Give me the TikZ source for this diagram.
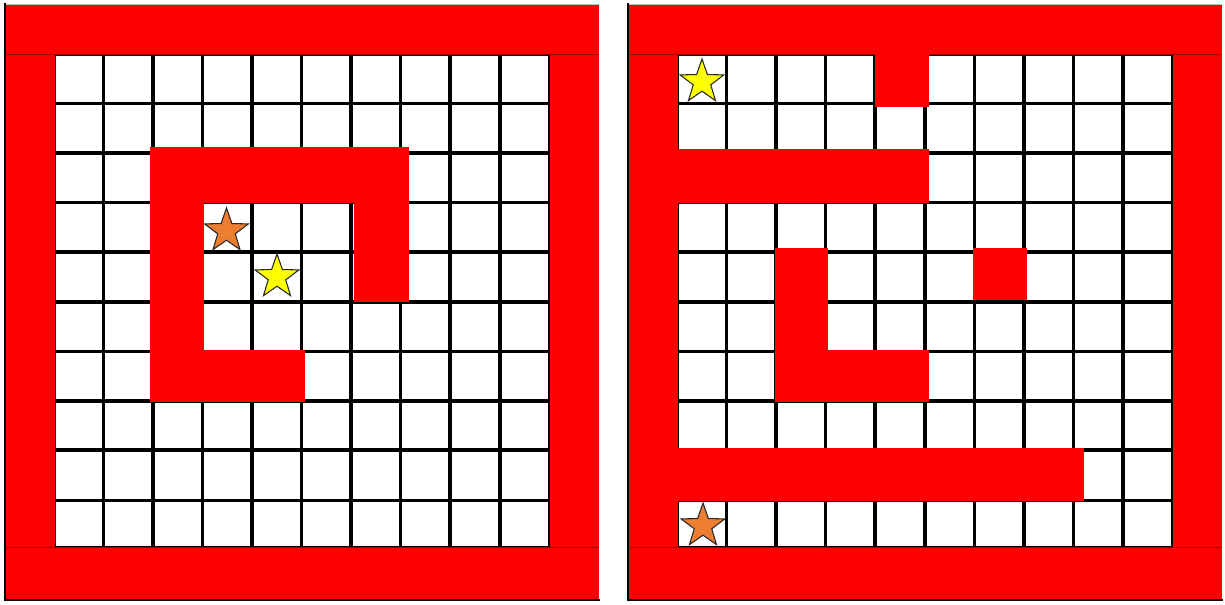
\documentclass[tikz,border=0pt]{standalone}
\usetikzlibrary{shapes.geometric}
\definecolor{wallred}{HTML}{FF0000}
\definecolor{starorange}{HTML}{ED7D31}
\definecolor{staryellow}{HTML}{FFFF00}
\begin{document}
\begin{tikzpicture}[x=0.02cm,y=-0.02cm,
  gridline/.style={line width=2pt,black},
  wall/.style={fill=wallred,draw=none},
  seam/.style={line width=0.5pt,draw=wallred!60!black},
  frame/.style={line width=1.1pt,black},
  goalstar/.style={star,star points=5,star point ratio=2.5,minimum size=0.92cm,inner sep=0pt,draw=black!85,line width=0.6pt}]
\useasboundingbox (0,0) rectangle (1225,605);
\fill[white] (0,0) rectangle (1225,605);
% grids
\foreach \ox in {53.8,677}{
  \foreach \i in {0,...,10} \draw[gridline] ({\ox+\i*49.55},54) -- ({\ox+\i*49.55},548.5);
  \foreach \yy in {54,103.5,153,202.5,252,302,351.5,401,450,500.5,548}
    \draw[gridline] (\ox,\yy) -- ({\ox+495.5},\yy);
}
% outer walls
\foreach \L/\R in {5/599,628/1222}{
  \fill[wall] (\L,4) rectangle (\R,54.5);
  \fill[wall] (\L,547.5) rectangle (\R,600);
  \fill[wall] (\L,54) rectangle ({\L+49.5},548);
  \fill[wall] ({\R-49.5},54) rectangle (\R,548);
  \draw[seam] (\L,54.5) -- (\R,54.5);
  \draw[seam] (\L,547.5) -- (\R,547.5);
  \draw[gray!50,line width=0.4pt] (\L,4) -- (\R,4);
  \draw[frame] (\L,3.5) -- (\L,600) -- ({\R+1},600);
}
% inner walls, left maze
\fill[wall] (150,147) rectangle (409,202.7);
\fill[wall] (354.3,147) rectangle (409,302.3);
\fill[wall] (150,147) rectangle (204,402);
\fill[wall] (150,350) rectangle (305,402);
% inner walls, right maze
\fill[wall] (875,54) rectangle (929.3,106.7);
\fill[wall] (677,149.3) rectangle (929.3,203.3);
\fill[wall] (775,248) rectangle (828,402);
\fill[wall] (775,350) rectangle (929,402);
\fill[wall] (973,248) rectangle (1027,300);
\fill[wall] (677,447.7) rectangle (1084,501);
% stars
\node[goalstar,fill=starorange] (startL) at (226.5,231) {};
\node[goalstar,fill=staryellow] (goalL) at (277,277) {};
\node[goalstar,fill=staryellow] (goalR) at (702,82) {};
\node[goalstar,fill=starorange] (startR) at (703,526) {};
\end{tikzpicture}
\end{document}
